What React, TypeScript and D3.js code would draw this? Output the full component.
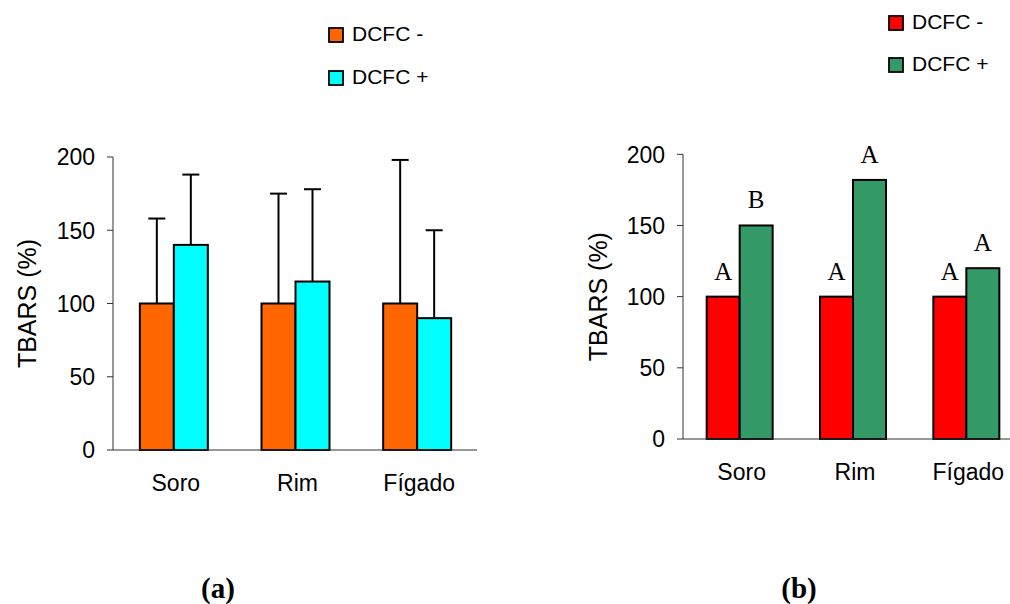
import React from "react";
import * as d3 from "d3";

// Tissues measured
const categories = ["Soro", "Rim", "Fígado"];
const seriesNames = ["DCFC -", "DCFC +"];

// Panel (a): mean TBARS (%) and standard deviation
const meanA_minus = [100, 100, 100];
const meanA_plus = [140, 115, 90];
const sdA_minus = [58, 75, 98];
const sdA_plus = [48, 63, 60];

// Panel (b): TBARS (%) with significance letters
const valB_minus = [100, 100, 100];
const valB_plus = [150, 182, 120];
const lettersB_minus = ["A", "A", "A"];
const lettersB_plus = ["B", "A", "A"];

const yTicks = [0, 50, 100, 150, 200];

const colorsA = ["#FF6600", "#00FFFF"];
const colorsB = ["#FF0000", "#339966"];

const SANS = "'Liberation Sans', Arial, sans-serif";
const SERIF = "'Liberation Serif', 'Times New Roman', serif";

type PanelProps = {
  x0: number;
  x1: number;
  yTop: number;
  yBottom: number;
  barW: number;
  axisEnd: number;
  minus: number[];
  plus: number[];
  colors: string[];
  sdMinus?: number[];
  sdPlus?: number[];
  lettersMinus?: string[];
  lettersPlus?: string[];
  titleX: number;
  labelGap: number;
  legendX: number;
  legendY: number[];
};

function Panel(p: PanelProps) {
  const y = d3.scaleLinear().domain([0, 200]).range([p.yBottom, p.yTop]);
  const x = d3.scaleBand<string>().domain(categories).range([p.x0, p.x1]).padding(0);
  const inner = d3
    .scaleBand<string>()
    .domain(seriesNames)
    .range([-p.barW, p.barW])
    .padding(0);
  const series = [
    { name: seriesNames[0], vals: p.minus, sd: p.sdMinus, letters: p.lettersMinus, color: p.colors[0] },
    { name: seriesNames[1], vals: p.plus, sd: p.sdPlus, letters: p.lettersPlus, color: p.colors[1] },
  ];
  const axisX = p.x0;
  const titleY = (p.yTop + p.yBottom) / 2;

  return (
    <g>
      {/* legend */}
      {series.map((s, i) => (
        <g key={s.name} transform={`translate(${p.legendX},${p.legendY[i]})`}>
          <rect x={0} y={0} width={14} height={14} fill={s.color} stroke="#000" strokeWidth={1.8} />
          <text x={23} y={13} fontFamily={SANS} fontSize={21} fill="#000">
            {s.name}
          </text>
        </g>
      ))}

      {/* y axis */}
      <line x1={axisX} x2={axisX} y1={y(200)} y2={y(0)} stroke="#333" strokeWidth={1} />
      {yTicks.map((t) => (
        <g key={t}>
          <line x1={axisX - 6} x2={axisX} y1={y(t)} y2={y(t)} stroke="#333" strokeWidth={1} />
          <text
            x={axisX - 18}
            y={y(t)}
            dy="0.36em"
            textAnchor="end"
            fontFamily={SANS}
            fontSize={23}
            fill="#000"
          >
            {t}
          </text>
        </g>
      ))}
      <text
        transform={`translate(${p.titleX},${titleY}) rotate(-90)`}
        textAnchor="middle"
        dominantBaseline="central"
        fontFamily={SANS}
        fontSize={25}
        fill="#000"
      >
        TBARS (%)
      </text>

      {/* bars */}
      {series.map((s) =>
        categories.map((c, i) => {
          const cx = (x(c) as number) + x.bandwidth() / 2;
          const bx = cx + (inner(s.name) as number);
          const top = y(s.vals[i]);
          const mid = bx + inner.bandwidth() / 2;
          return (
            <g key={s.name + c}>
              {s.sd && (
                <g stroke="#000" strokeWidth={2}>
                  <line x1={mid} x2={mid} y1={top} y2={y(s.vals[i] + s.sd[i])} />
                  <line x1={mid - 8.5} x2={mid + 8.5} y1={y(s.vals[i] + s.sd[i])} y2={y(s.vals[i] + s.sd[i])} />
                </g>
              )}
              <rect
                x={bx}
                y={top}
                width={inner.bandwidth()}
                height={y(0) - top}
                fill={s.color}
                stroke="#000"
                strokeWidth={2}
              />
              {s.letters && (
                <text
                  x={mid}
                  y={top - p.labelGap}
                  textAnchor="middle"
                  fontFamily={SERIF}
                  fontSize={25}
                  fill="#000"
                >
                  {s.letters[i]}
                </text>
              )}
            </g>
          );
        })
      )}

      {/* x axis */}
      <line x1={axisX} x2={p.axisEnd} y1={y(0)} y2={y(0)} stroke="#333" strokeWidth={1} />
      {categories.map((c) => (
        <text
          key={c}
          x={(x(c) as number) + x.bandwidth() / 2 + 2}
          y={y(0) + 41}
          textAnchor="middle"
          fontFamily={SANS}
          fontSize={23}
          fill="#000"
        >
          {c}
        </text>
      ))}
    </g>
  );
}

export default function App() {
  return (
    <svg
      width={1010}
      height={604}
      viewBox="0 0 1010 604"
      style={{ position: "absolute", left: 0, top: 0, background: "#fff" }}
    >
      <rect width={1010} height={604} fill="#fff" />
      <Panel
        x0={113}
        x1={478}
        yTop={157}
        yBottom={450}
        barW={34}
        axisEnd={477}
        minus={meanA_minus}
        plus={meanA_plus}
        colors={colorsA}
        sdMinus={sdA_minus}
        sdPlus={sdA_plus}
        titleX={27}
        labelGap={0}
        legendX={329}
        legendY={[28, 71]}
      />
      <Panel
        x0={683}
        x1={1023}
        yTop={154.3}
        yBottom={439}
        barW={33}
        axisEnd={1010}
        minus={valB_minus}
        plus={valB_plus}
        colors={colorsB}
        lettersMinus={lettersB_minus}
        lettersPlus={lettersB_plus}
        titleX={598}
        labelGap={17}
        legendX={889}
        legendY={[16, 58]}
      />
      <text x={218} y={598} textAnchor="middle" fontFamily={SERIF} fontWeight="bold" fontSize={29} fill="#000">
        (a)
      </text>
      <text x={799} y={598} textAnchor="middle" fontFamily={SERIF} fontWeight="bold" fontSize={29} fill="#000">
        (b)
      </text>
    </svg>
  );
}
